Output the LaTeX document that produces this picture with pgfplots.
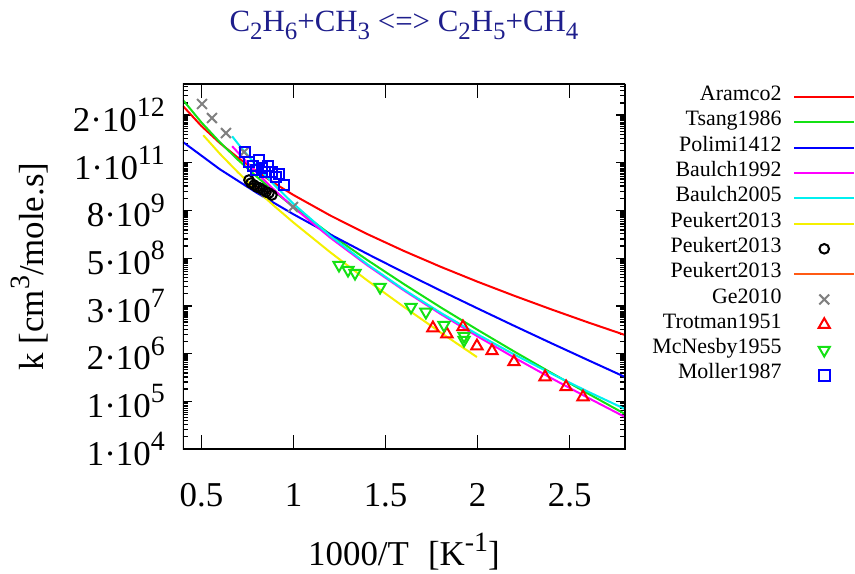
\documentclass[border=0pt]{standalone}
\usepackage{fontspec}
\setmainfont{Liberation Serif}
\usepackage{pgfplots}
\pgfplotsset{compat=1.18}
\definecolor{ttl}{RGB}{30,30,140}
\definecolor{cred}{RGB}{255,0,0}
\definecolor{cgreen}{RGB}{20,225,20}
\definecolor{cblue}{RGB}{0,0,255}
\definecolor{cmag}{RGB}{255,0,255}
\definecolor{ccyan}{RGB}{0,240,240}
\definecolor{cyel}{RGB}{245,240,0}
\definecolor{corange}{RGB}{255,90,20}
\definecolor{cgray}{RGB}{128,128,128}
\newcommand{\sps}[1]{\raisebox{0.42em}{\fontsize{28}{28}\selectfont #1}}
\newcommand{\sbs}[1]{\raisebox{-0.26em}{\fontsize{25}{25}\selectfont #1}}
\pgfplotsset{mylegimg/.style={legend image code/.code={\draw[mark repeat=2,mark phase=2,##1] plot coordinates {(0cm,0cm) (1.05cm,0cm) (2.1cm,0cm)};}}}
\begin{document}
\begin{tikzpicture}
\useasboundingbox (-183bp,-125bp) rectangle (672bp,449bp);
\begin{axis}[
  at={(0,0)}, anchor=south west,
  scale only axis, width=442bp, height=365bp,
  xmin=0.4, xmax=2.8,
  ymode=log, ymin=1e4, ymax=1e13,
  xtick={0.5,1,1.5,2,2.5}, xticklabels={0.5,1,1.5,2,2.5},
  minor x tick num=0,
  ytick={1e4,1.5e5,2.25e6,3.375e7,5.0625e8,7.59375e9,1.1390625e11,1.70859375e12},
  yticklabels={1·10\sps{4},1·10\sps{5},2·10\sps{6},3·10\sps{7},5·10\sps{8},8·10\sps{9},1·10\sps{11},2·10\sps{12}},
  minor ytick={2e4,3e4,4e4,5e4,6e4,7e4,8e4,9e4,1e5,1.1e5,1.2e5,1.3e5,1.4e5,
    3e5,4.5e5,6e5,7.5e5,9e5,1.05e6,1.2e6,1.35e6,1.5e6,1.65e6,1.8e6,1.95e6,2.1e6,
    4.5e6,6.75e6,9e6,1.125e7,1.35e7,1.575e7,1.8e7,2.025e7,2.25e7,2.475e7,2.7e7,2.925e7,3.15e7,
    6.75e7,1.0125e8,1.35e8,1.6875e8,2.025e8,2.3625e8,2.7e8,3.0375e8,3.375e8,3.7125e8,4.05e8,4.3875e8,4.725e8,
    1.0125e9,1.51875e9,2.025e9,2.53125e9,3.0375e9,3.54375e9,4.05e9,4.55625e9,5.0625e9,5.56875e9,6.075e9,6.58125e9,7.0875e9,
    1.51875e10,2.278125e10,3.0375e10,3.796875e10,4.55625e10,5.315625e10,6.075e10,6.834375e10,7.59375e10,8.353125e10,9.1125e10,9.871875e10,1.063125e11,
    2.278125e11,3.4171875e11,4.55625e11,5.6953125e11,6.834375e11,7.9734375e11,9.1125e11,1.02515625e12,1.1390625e12,1.25296875e12,1.366875e12,1.48078125e12,1.5946875e12,
    3.4171875e12,5.12578125e12,6.834375e12,8.54296875e12},
  tick align=inside,
  major tick length=9bp, minor tick length=5bp,
  xtick style={/pgfplots/major tick length=14bp},
  tick style={black, line width=1.3bp},
  xticklabel style={font=\fontsize{35}{40}\selectfont, anchor=north, inner sep=0pt, yshift=-34bp},
  yticklabel style={font=\fontsize{35}{40}\selectfont, anchor=east, inner sep=0pt, xshift=-18bp},
  xlabel={1000/T\hspace{0.55em}[K\sps{-1}]},
  xlabel style={font=\fontsize{35}{40}\selectfont, at={(axis description cs:0.5,-0.3205)}, anchor=base},
  ylabel={k [cm\sps{3}/mole.s]},
  ylabel style={font=\fontsize{35}{40}\selectfont, at={(axis description cs:-0.3145,0.5)}, anchor=base},
  title={C\sbs{2}H\sbs{6}+CH\sbs{3} <=> C\sbs{2}H\sbs{5}+CH\sbs{4}},
  title style={font=\fontsize{31}{36}\selectfont, text=ttl, at={(axis description cs:0.5,1.1288)}, anchor=base},
  legend plot pos=right,
  legend cell align=right,
  legend style={at={(axis description cs:1.5204,0.999)}, anchor=north east, draw=none, fill=none,
    inner sep=0pt, outer sep=0pt, row sep=0pt, column sep=12bp,
    font=\fontsize{22}{25}\selectfont,
    nodes={inner sep=0pt, text height=16.3bp, text depth=9bp}},
  mylegimg,
  every axis plot/.append style={line width=2bp},
]
\addplot[cred, no marks, mylegimg] coordinates {
(0.4,2.86e12) (0.5,9.20e11) (0.6,3.50e11) (0.7,1.50e11) (0.8,7.00e10) (0.9,3.49e10) (1.0,1.83e10)
(1.2,5.71e9) (1.4,2.00e9) (1.6,7.62e8) (1.8,3.10e8) (2.0,1.33e8) (2.2,5.97e7) (2.4,2.77e7) (2.6,1.32e7) (2.8,6.47e6)};
\addlegendentry{Aramco2}
\addplot[cgreen, no marks, mylegimg] coordinates {
(0.4,4.03e12) (0.5,1.13e12) (0.6,3.67e11) (0.7,1.33e11) (0.8,5.20e10) (0.9,2.15e10) (1.0,9.35e9)
(1.2,1.96e9) (1.4,4.59e8) (1.6,1.16e8) (1.8,3.09e7) (2.0,8.65e6) (2.2,2.51e6) (2.4,7.54e5) (2.6,2.32e5) (2.8,7.29e4)};
\addlegendentry{Tsang1986}
\addplot[cblue, no marks, mylegimg] coordinates {
(0.4,3.71e11) (0.6,7.91e10) (0.8,2.08e10) (1.0,6.13e9) (1.2,1.95e9) (1.4,6.50e8) (1.6,2.25e8)
(1.8,8.00e7) (2.0,2.92e7) (2.2,1.08e7) (2.4,4.06e6) (2.6,1.55e6) (2.8,5.96e5)};
\addlegendentry{Polimi1412}
\addplot[cmag, no marks, mylegimg] coordinates {
(0.667,2.92e11) (0.8,6.48e10) (0.9,2.34e10) (1.0,9.07e9) (1.2,1.62e9) (1.4,3.41e8) (1.6,8.11e7)
(1.8,2.12e7) (2.0,5.96e6) (2.2,1.78e6) (2.4,5.57e5) (2.6,1.82e5) (2.8,6.15e4)};
\addlegendentry{Baulch1992}
\addplot[ccyan, no marks, mylegimg] coordinates {
(0.667,5.14e11) (0.7,3.30e11) (0.8,9.51e10) (0.9,3.10e10) (1.0,1.11e10) (1.2,1.79e9) (1.4,3.61e8)
(1.6,8.51e7) (1.8,2.27e7) (2.0,6.68e6) (2.2,2.12e6) (2.4,7.21e5) (2.6,2.58e5) (2.8,9.68e4)};
\addlegendentry{Baulch2005}
\addplot[cyel, no marks, mylegimg] coordinates {
(0.51,5.45e11) (0.6,1.91e11) (0.7,6.53e10) (0.8,2.41e10) (0.9,9.39e9) (1.0,3.83e9) (1.2,7.07e8)
(1.4,1.44e8) (1.6,3.18e7) (1.8,7.40e6) (1.996,1.85e6)};
\addlegendentry{Peukert2013}
\addplot[black, only marks, mark=o, mark size=4.8bp, mylegimg] coordinates {
(0.758,4.29e10) (0.769,3.61e10) (0.786,3.23e10) (0.802,2.88e10) (0.818,2.72e10) (0.834,2.43e10)
(0.851,2.17e10) (0.867,2.05e10) (0.883,1.83e10)};
\addlegendentry{Peukert2013}
\addplot[corange, no marks, mylegimg] coordinates {
(0.775,3.23e10) (0.826,2.5e10) (0.878,1.94e10)};
\addlegendentry{Peukert2013}
\addplot[cgray, only marks, mark=x, mark size=7bp, mylegimg] coordinates {
(0.503,3.21e12) (0.557,1.45e12) (0.633,6.18e11) (0.731,2.10e11) (0.997,9.25e9)};
\addlegendentry{Ge2010}
\addplot[cred, only marks, mark=triangle, mark size=6.5bp, mylegimg] coordinates {
(1.757,9.62e6) (1.833,6.84e6) (1.920,1.02e7) (1.996,3.46e6) (2.078,2.61e6) (2.197,1.40e6)
(2.366,5.96e5) (2.480,3.38e5) (2.572,1.91e5)};
\addlegendentry{Trotman1951}
\addplot[cgreen, only marks, mark=triangle, mark size=6.5bp, mark options={rotate=180}, mylegimg] coordinates {
(1.247,3.44e8) (1.296,2.59e8) (1.334,2.18e8) (1.470,9.86e7) (1.638,3.17e7) (1.719,2.39e7)
(1.817,1.14e7) (1.926,6.11e6) (1.926,4.87e6)};
\addlegendentry{McNesby1955}
\addplot[cblue, only marks, mark=square, mark size=5.3bp, mylegimg] coordinates {
(0.737,2.10e11) (0.758,1.19e11) (0.780,9.49e10) (0.796,7.57e10) (0.813,1.33e11) (0.829,8.47e10)
(0.845,6.75e10) (0.862,9.49e10) (0.883,6.75e10) (0.905,5.08e10) (0.921,6.03e10) (0.948,3.23e10)};
\addlegendentry{Moller1987}
\draw[line width=1.8bp] (rel axis cs:0,0) rectangle (rel axis cs:1,1);
\end{axis}
\end{tikzpicture}
\end{document}
